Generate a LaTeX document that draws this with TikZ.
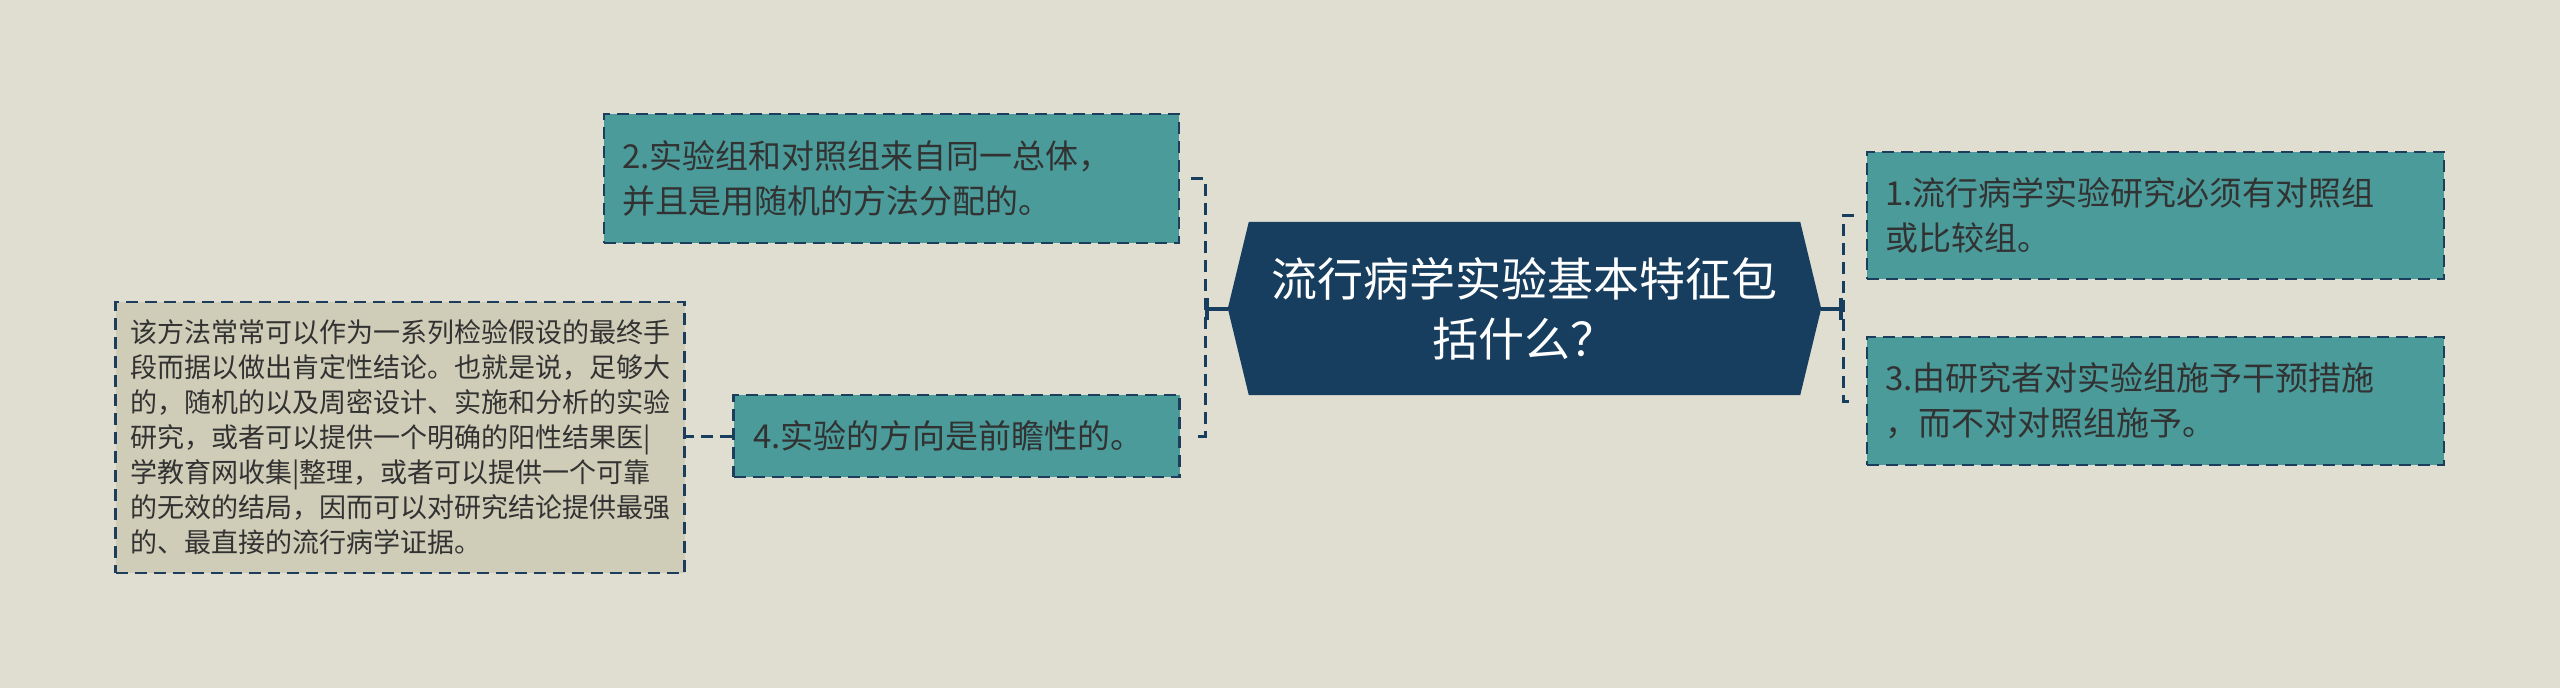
\documentclass[tikz,border=0pt]{standalone}
\usepackage{fontspec}
\setmainfont{Noto Sans CJK SC}
\usetikzlibrary{arrows.meta,backgrounds}
\definecolor{bgc}{RGB}{224,222,208}
\definecolor{tealc}{RGB}{74,155,154}
\definecolor{navyc}{RGB}{23,62,94}
\definecolor{detc}{RGB}{207,204,184}
\definecolor{bordc}{RGB}{28,62,92}
\definecolor{txtc}{RGB}{50,50,50}
\tikzset{
  tealbox/.style={draw=bordc, line width=2.5pt, dash pattern=on 12pt off 7pt, fill=tealc,
    text=txtc, align=left, inner xsep=0pt, inner ysep=0pt,
    font=\fontsize{33}{45}\selectfont},
  detbox/.style={draw=bordc, line width=2.5pt, dash pattern=on 12pt off 7pt, fill=detc,
    text=txtc, align=left, inner sep=0pt,
    font=\fontsize{27}{35}\selectfont},
  hexnode/.style={inner sep=0pt, text=white, align=center,
    font=\fontsize{46}{60}\selectfont},
  solidconn/.style={draw=navyc, line width=4pt, -{Bar[width=22pt,line width=4pt]}},
  dashconn/.style={draw=navyc, line width=3pt, dash pattern=on 12pt off 7pt},
}
\begin{document}
\begin{tikzpicture}[x=1pt,y=-1pt]
\useasboundingbox (0,0) rectangle (2560,688);

% central node
\node[hexnode, minimum width=593pt, minimum height=173pt] (hex) at (1524.5,308.5)
  {流行病学实验基本特征包\\括什么？};
\begin{scope}[on background layer]
\fill[bgc] (0,0) rectangle (2560,688);
\fill[navyc] (hex.west) -- ([xshift=21pt]hex.north west) -- ([xshift=-21pt]hex.north east)
  -- (hex.east) -- ([xshift=-21pt]hex.south east) -- ([xshift=21pt]hex.south west) -- cycle;
\end{scope}

% left nodes
\node[tealbox, minimum width=575pt, minimum height=129pt, text width=539pt] (b2) at (891.5,178.5)
  {2.实验组和对照组来自同一总体，\\并且是用随机的方法分配的。};
\node[tealbox, minimum width=446pt, minimum height=82pt, text width=406pt] (b4) at (956.5,436)
  {4.实验的方向是前瞻性的。};
\node[detbox, minimum width=569pt, minimum height=271pt] (det) at (400,437.5)
  {该方法常常可以作为一系列检验假设的最终手\\
   段而据以做出肯定性结论。也就是说，足够大\\
   的，随机的以及周密设计、实施和分析的实验\\
   研究，或者可以提供一个明确的阳性结果医|\\
   学教育网收集|整理，或者可以提供一个可靠\\
   的无效的结局，因而可以对研究结论提供最强\\
   的、最直接的流行病学证据。};

% right nodes
\node[tealbox, minimum width=577pt, minimum height=127pt, text width=541pt] (b1) at (2155.5,215.5)
  {1.流行病学实验研究必须有对照组\\或比较组。};
\node[tealbox, minimum width=577pt, minimum height=128pt, text width=541pt] (b3) at (2155.5,401)
  {3.由研究者对实验组施予干预措施\\，而不对对照组施予。};

% connectors
\coordinate (lb) at (1205,308.5);
\coordinate (rb) at (1843,308.5);
\draw[solidconn] (hex.west) -- (lb);
\draw[solidconn] (hex.east) -- (rb);
\draw[dashconn] ([xshift=11pt]b2.east) -| (lb) |- ([xshift=11pt]b4.east);
\draw[dashconn] ([xshift=-12pt]b1.west) -| (rb) |- ([xshift=-12pt]b3.west);
\draw[dashconn] (b4.west) -- (det.east |- b4.west);
\end{tikzpicture}
\end{document}
